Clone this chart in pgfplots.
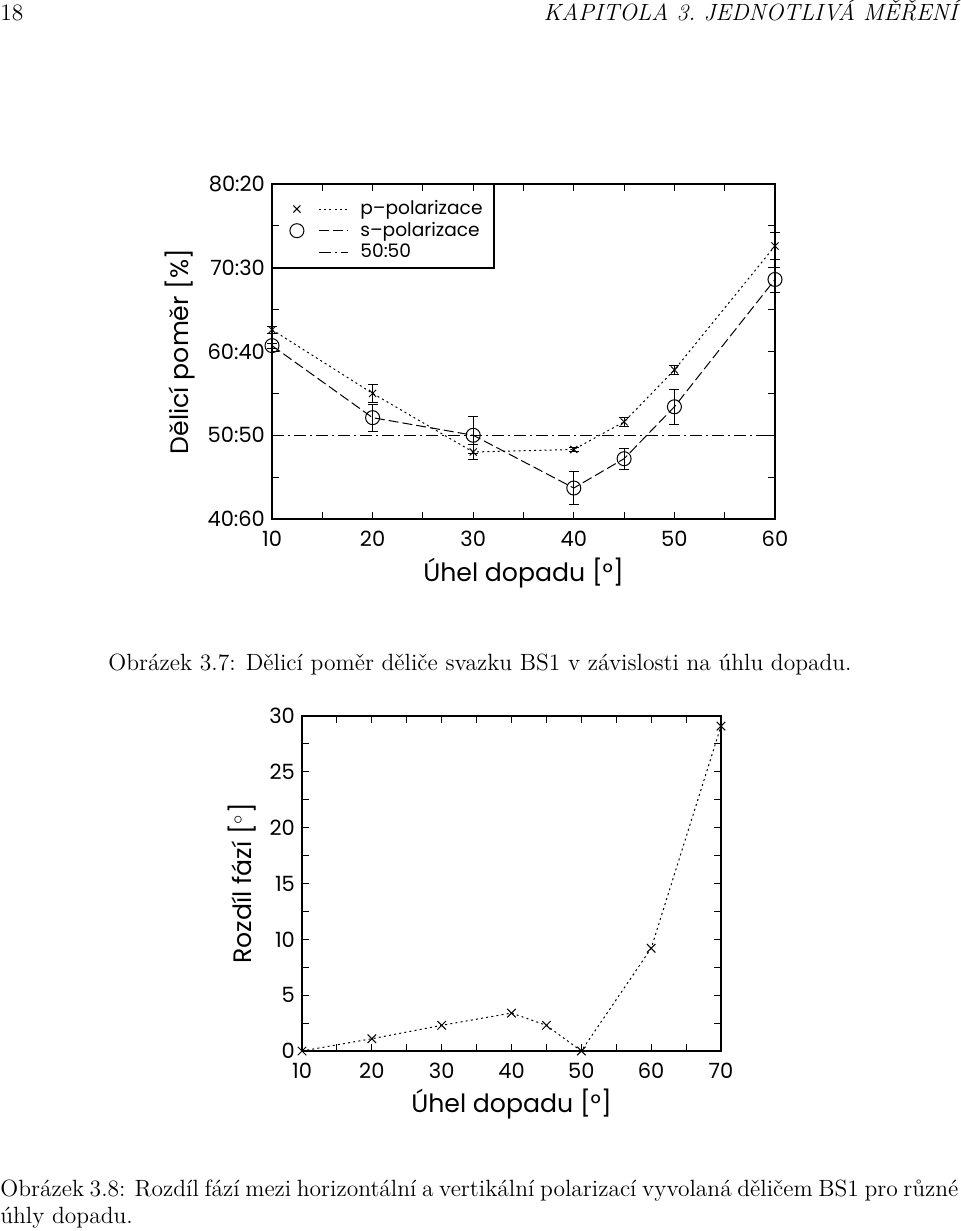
\documentclass[border=0pt]{standalone}
\usepackage{fontspec}
\usepackage{pgfplots}
\pgfplotsset{compat=1.18}
\newfontfamily\chartfont{Poppins}
\newcommand{\capfont}{\fontsize{11.75}{13.5}\selectfont}
\pgfplotsset{
  markleg/.style={legend image code/.code={\draw[##1,mark=none] (11pt,0pt) -- (25.5pt,0pt); \draw[##1,solid] plot coordinates {(0pt,0pt)}; \path (29.5pt,0pt);}},
  lineleg/.style={legend image code/.code={\draw[##1] (11pt,0pt) -- (25.5pt,0pt); \path (29.5pt,0pt) (-3.5pt,0pt);}},
  mystyle/.style={
    scale only axis,
    tick align=inside,
    major tick length=3.5pt, minor tick length=3.5pt,
    tick style={black, line width=0.5pt},
    axis line style={line width=0.7pt},
    tick label style={font=\chartfont\fontsize{10.5}{12}\selectfont},
    xticklabel style={yshift=-2.5pt},
    /pgf/number format/assume math mode=true,
    label style={font=\chartfont\fontsize{12.6}{15}\selectfont},
  }
}
\begin{document}
\begin{tikzpicture}
\path[use as bounding box] (0pt,0pt) rectangle (480pt,-615.5pt);
% header
\node[anchor=base west,inner sep=0pt] at (0pt,-10pt) {\capfont 18};
\node[anchor=base east,inner sep=0pt] at (479pt,-10pt) {\capfont\itshape KAPITOLA 3.\ JEDNOTLIVÁ MĚŘENÍ};
% captions
\node[anchor=base,inner sep=0pt] at (240pt,-335pt) {\capfont Obrázek 3.7: Dělicí poměr děliče svazku BS1 v závislosti na úhlu dopadu.};
\node[anchor=base west,inner sep=0pt] at (0pt,-598pt) {\capfont\makebox[479pt][s]{Obrázek 3.8: Rozdíl fází mezi horizontální a vertikální polarizací vyvolaná děličem BS1 pro různé}};
\node[anchor=base west,inner sep=0pt] at (0pt,-611.5pt) {\capfont úhly dopadu.};

% top chart
\begin{axis}[mystyle,
  at={(136pt,-259.5pt)}, anchor=south west,
  width=251.5pt, height=167.5pt,
  xmin=10, xmax=60, ymin=40, ymax=80,
  xtick={10,20,...,60}, minor xtick={15,25,...,55},
  ytick={40,50,...,80}, yticklabels={40:60,50:50,60:40,70:30,80:20},
  minor ytick={45,55,65,75},
  clip=false,
  xlabel={Úhel dopadu [°]}, ylabel={Dělicí poměr [\%]},
  xlabel style={at={(axis description cs:0.5,-0.1612)},anchor=center},
  ylabel style={at={(axis description cs:-0.183,0.5)},anchor=center},
  legend style={at={(axis description cs:0.0338,0.964)}, anchor=north west, draw=none, fill=none,
    font=\chartfont\fontsize{9.3}{11}\selectfont, inner sep=0pt,
    row sep=-1.75pt, cells={anchor=west}},
  legend cell align=left,
]
\addplot[black, line width=0.5pt, dash pattern=on 1pt off 1.6pt, mark=x, mark size=2.5pt,
  mark options={solid}, markleg,
  error bars/.cd, y dir=both, y explicit, error bar style={solid,line width=0.5pt},
  error mark options={solid,mark size=2.5pt,rotate=90}]
  table[x=x,y=y,y error=e] {
x y e
10 62.6 0.4
20 55.0 1.1
30 48.0 0.9
40 48.3 0.2
45 51.6 0.5
50 57.8 0.5
60 72.6 1.6
};
\addlegendentry{p–polarizace}
\addplot[black, line width=0.5pt, dash pattern=on 5pt off 2pt, mark=o, mark size=3.5pt,
  mark options={solid}, markleg,
  error bars/.cd, y dir=both, y explicit, error bar style={solid,line width=0.5pt},
  error mark options={solid,mark size=2.5pt,rotate=90}]
  table[x=x,y=y,y error=e] {
x y e
10 60.7 0.3
20 52.1 1.6
30 50.0 2.2
40 43.7 2.0
45 47.2 1.25
50 53.4 2.1
60 68.6 1.5
};
\addlegendentry{s–polarizace}
\addplot[black, line width=0.5pt, dash pattern=on 6pt off 2pt on 1pt off 2pt, lineleg]
  coordinates {(10,50) (60,50)};
\addlegendentry{50:50}
\draw[black, line width=0.6pt] (rel axis cs:0,1) rectangle (rel axis cs:0.4414,0.7493);
\end{axis}

% bottom chart
\begin{axis}[mystyle,
  at={(151pt,-525.5pt)}, anchor=south west,
  width=209.5pt, height=167.5pt,
  xmin=10, xmax=70, ymin=0, ymax=30,
  xtick={10,20,...,70}, minor xtick={15,25,...,65},
  ytick={0,5,...,30}, minor ytick={2.5,7.5,...,27.5},
  clip=false,
  xlabel={Úhel dopadu [°]}, ylabel={Rozdíl fází [$^{\circ}$]},
  xlabel style={at={(axis description cs:0.5,-0.158)},anchor=center},
  ylabel style={at={(axis description cs:-0.1432,0.5)},anchor=center},
]
\addplot[black, line width=0.5pt, dash pattern=on 1pt off 1.6pt, mark=x, mark size=3pt,
  mark options={solid}]
  coordinates {(10,0) (20,1.1) (30,2.3) (40,3.4) (45,2.3) (50,0) (60,9.2) (70,29.1)};
\end{axis}
\end{tikzpicture}
\end{document}
